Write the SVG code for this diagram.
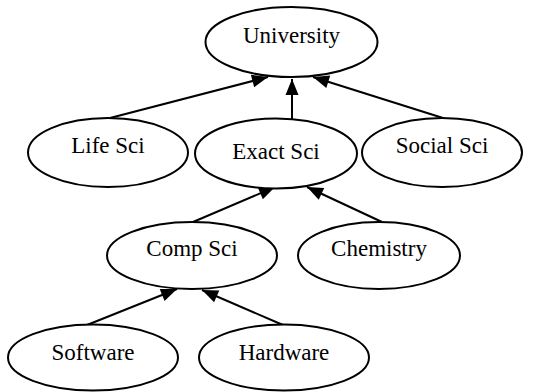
<svg xmlns="http://www.w3.org/2000/svg" width="552" height="392" viewBox="0 0 552 392">
<style>
.node ellipse { fill: #ffffff; stroke: #000000; stroke-width: 2; }
text { font-family: "Times New Roman", "Liberation Serif", "DejaVu Serif", serif; font-size: 23px; fill: #000000; text-anchor: middle; }
.edge line { stroke: #000000; stroke-width: 2; }
</style>
<defs>
<marker id="arrow" markerUnits="userSpaceOnUse" markerWidth="18" markerHeight="16" refX="16" refY="7" orient="auto" overflow="visible">
<path d="M0,0.5 L16,7 L0,13.5 z" fill="#000000"/>
</marker>
</defs>
<rect width="552" height="392" fill="#ffffff"/>
<g id="edges" class="edge">
<line x1="110" y1="118" x2="268" y2="77" marker-end="url(#arrow)"/>
<line x1="292" y1="119" x2="292" y2="79" marker-end="url(#arrow)"/>
<line x1="443" y1="118" x2="313" y2="77" marker-end="url(#arrow)"/>
<line x1="193" y1="222" x2="275" y2="187" marker-end="url(#arrow)"/>
<line x1="382" y1="222" x2="307" y2="187" marker-end="url(#arrow)"/>
<line x1="87" y1="325" x2="177" y2="289" marker-end="url(#arrow)"/>
<line x1="283" y1="325" x2="202" y2="290" marker-end="url(#arrow)"/>
</g>
<g id="university" class="node"><ellipse cx="291.5" cy="42" rx="86" ry="35"/><text x="291.5" y="43">University</text></g>
<g id="lifesci" class="node"><ellipse cx="108" cy="152.5" rx="80" ry="34.5"/><text x="108" y="153">Life Sci</text></g>
<g id="exactsci" class="node"><ellipse cx="276" cy="153.5" rx="81" ry="35"/><text x="276" y="159">Exact Sci</text></g>
<g id="socialsci" class="node"><ellipse cx="442" cy="152.5" rx="80" ry="34.5"/><text x="442" y="153">Social Sci</text></g>
<g id="compsci" class="node"><ellipse cx="192" cy="255.5" rx="85" ry="33.5"/><text x="192" y="256">Comp Sci</text></g>
<g id="chemistry" class="node"><ellipse cx="379" cy="255.5" rx="81" ry="33.5"/><text x="379" y="256">Chemistry</text></g>
<g id="software" class="node"><ellipse cx="93" cy="357.5" rx="85" ry="33"/><text x="93" y="360">Software</text></g>
<g id="hardware" class="node"><ellipse cx="284" cy="357.5" rx="85" ry="33"/><text x="284" y="360">Hardware</text></g>
</svg>
